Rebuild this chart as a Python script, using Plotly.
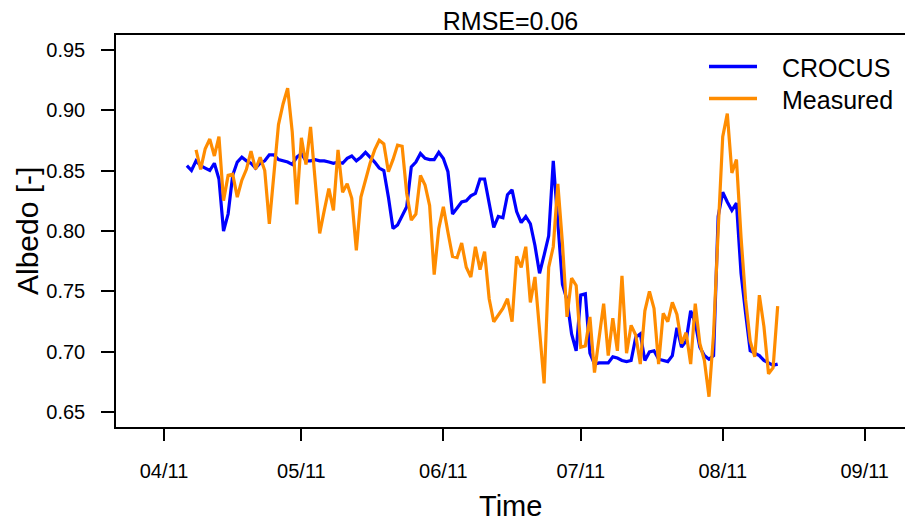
import plotly.graph_objects as go
import pandas as pd

# Daily albedo values
crocus_start = "2011-04-06"
crocus = [
    0.854, 0.850, 0.858, 0.854, 0.852, 0.850, 0.856, 0.843, 0.800, 0.814,
    0.846, 0.857, 0.861, 0.858, 0.856, 0.852, 0.856, 0.858, 0.863, 0.863,
    0.859, 0.858, 0.857, 0.855, 0.861, 0.864, 0.858, 0.858, 0.859, 0.858,
    0.858, 0.857, 0.856, 0.857, 0.856, 0.860, 0.862, 0.858, 0.861, 0.865,
    0.861, 0.857, 0.852, 0.850, 0.828, 0.802, 0.805, 0.812, 0.820, 0.853,
    0.857, 0.864, 0.860, 0.859, 0.859, 0.865, 0.860, 0.849, 0.814, 0.819,
    0.824, 0.825, 0.829, 0.831, 0.843, 0.843, 0.823, 0.803, 0.812, 0.811,
    0.830, 0.834, 0.816, 0.807, 0.812, 0.806, 0.788, 0.765, 0.780, 0.796,
    0.858, 0.805, 0.756, 0.743, 0.715, 0.701, 0.747, 0.748, 0.699, 0.690,
    0.691, 0.691, 0.691, 0.696, 0.695, 0.693, 0.692, 0.693, 0.712, 0.715,
    0.693, 0.700, 0.701, 0.694, 0.693, 0.692, 0.697, 0.720, 0.704, 0.709,
    0.734, 0.724, 0.704, 0.697, 0.694, 0.697, 0.812, 0.832, 0.824, 0.817,
    0.823, 0.765, 0.732, 0.701, 0.699, 0.697, 0.693, 0.691, 0.689, 0.690,
]

measured_start = "2011-04-08"
measured = [
    0.867, 0.851, 0.868, 0.876, 0.862, 0.878, 0.825, 0.846, 0.847, 0.828,
    0.842, 0.851, 0.866, 0.851, 0.861, 0.850, 0.806, 0.845, 0.888, 0.905,
    0.918, 0.882, 0.822, 0.877, 0.855, 0.886, 0.842, 0.798, 0.817, 0.835,
    0.817, 0.867, 0.832, 0.839, 0.827, 0.784, 0.828, 0.843, 0.856, 0.867,
    0.875, 0.872, 0.849, 0.859, 0.871, 0.870, 0.831, 0.809, 0.814, 0.846,
    0.838, 0.821, 0.764, 0.802, 0.820, 0.799, 0.779, 0.778, 0.790, 0.770,
    0.762, 0.787, 0.768, 0.783, 0.744, 0.725, 0.730, 0.736, 0.744, 0.725,
    0.779, 0.770, 0.787, 0.741, 0.762, 0.718, 0.674, 0.770, 0.787, 0.839,
    0.790, 0.729, 0.761, 0.755, 0.704, 0.705, 0.729, 0.683, 0.712, 0.740,
    0.697, 0.728, 0.701, 0.763, 0.699, 0.722, 0.714, 0.690, 0.734, 0.750,
    0.736, 0.690, 0.732, 0.725, 0.741, 0.731, 0.707, 0.716, 0.690, 0.740,
    0.707, 0.693, 0.663, 0.715, 0.800, 0.878, 0.897, 0.848, 0.859, 0.795,
    0.743, 0.709, 0.696, 0.747, 0.721, 0.682, 0.687, 0.738,
]

y_ticks = [0.65, 0.70, 0.75, 0.80, 0.85, 0.90, 0.95]
series_names = ["CROCUS", "Measured"]
series_colors = ["#0000FF", "#FF8C00"]

crocus_dates = pd.date_range(crocus_start, periods=len(crocus), freq="D")
measured_dates = pd.date_range(measured_start, periods=len(measured), freq="D")

FONT = "Liberation Sans, Arial, Helvetica, sans-serif"

fig = go.Figure()
fig.add_trace(go.Scatter(x=crocus_dates, y=crocus, mode="lines", name=series_names[0],
                         line=dict(color=series_colors[0], width=3.2), showlegend=False))
fig.add_trace(go.Scatter(x=measured_dates, y=measured, mode="lines", name=series_names[1],
                         line=dict(color=series_colors[1], width=3.2), showlegend=False))

# plot area: x 116..905 px, y 35..427 px
L, R, T, B = 116, 905, 35, 427
W, H = R - L, B - T
def px(x):
    return (x - L) / W
def py(y):
    return (B - y) / H

shapes = []
annotations = []
for i, (name, col) in enumerate(zip(series_names, series_colors)):
    yc = 66.5 + i * 32
    shapes.append(dict(type="line", xref="paper", yref="paper",
                       x0=px(709), x1=px(757), y0=py(yc), y1=py(yc),
                       line=dict(color=col, width=3.5)))
    annotations.append(dict(text=name, xref="paper", yref="paper", x=px(780), y=py(yc + 1),
                            xanchor="left", yanchor="middle", showarrow=False,
                            font=dict(size=25, color="black", family=FONT)))

annotations.append(dict(text="Time", xref="paper", yref="paper", x=0.5, y=py(524),
                        xanchor="center", yanchor="bottom", showarrow=False,
                        font=dict(size=29, color="black", family=FONT)))
annotations.append(dict(text="Albedo [-]", xref="paper", yref="paper", x=px(27), y=0.5,
                        xanchor="center", yanchor="middle", textangle=-90, showarrow=False,
                        font=dict(size=30, color="black", family=FONT)))

fig.update_layout(
    width=905, height=525,
    margin=dict(l=L, r=905 - R, t=T, b=525 - B),
    paper_bgcolor="white", plot_bgcolor="white",
    font=dict(family=FONT, color="black"),
    title=dict(text="RMSE=0.06", x=0.5, xref="paper", y=1 - 21 / 525, yref="container",
               xanchor="center", yanchor="middle", font=dict(size=25, color="black", family=FONT)),
    shapes=shapes,
    annotations=annotations,
    showlegend=False,
)

fig.update_xaxes(
    type="date",
    range=["2011-03-21 12:30:00", "2011-09-09 19:12:00"],
    showgrid=False, zeroline=False,
    showline=True, linecolor="black", linewidth=1.5, mirror=True,
    ticks="outside", ticklen=12, tickwidth=1.5, tickcolor="black",
    tick0="2011-04-01", dtick="M1", tickformat="%m/%y",
    tickfont=dict(size=20, color="black", family=FONT),
    ticklabelstandoff=13,
)
fig.update_yaxes(
    range=[0.638, 0.962],
    showgrid=False, zeroline=False,
    showline=True, linecolor="black", linewidth=1.5, mirror=False,
    ticks="outside", ticklen=13, tickwidth=1.5, tickcolor="black",
    tickvals=y_ticks, ticktext=[f"{v:.2f}" for v in y_ticks],
    tickfont=dict(size=20, color="black", family=FONT),
    ticklabelstandoff=12,
)

fig.write_html("out.html")
